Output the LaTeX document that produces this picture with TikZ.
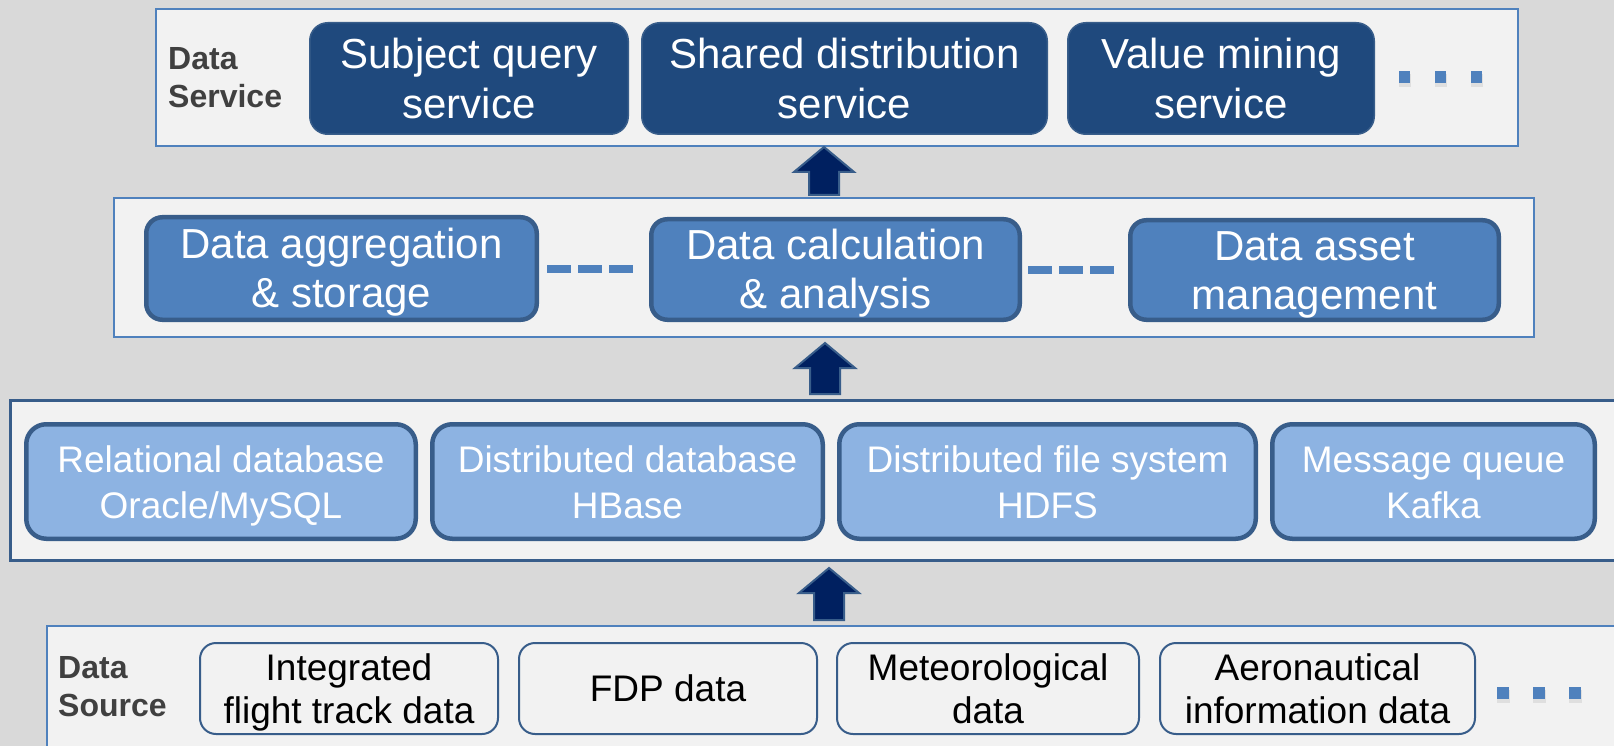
\documentclass[tikz,border=0pt]{standalone}
\usepackage{fontspec}
\setmainfont{Liberation Sans}
\usetikzlibrary{calc}

\definecolor{canvas}{HTML}{D9D9D9}
\definecolor{panelfill}{HTML}{F2F2F2}
\definecolor{panelline}{HTML}{4F81BD}
\definecolor{deepline}{HTML}{385D8A}
\definecolor{navy}{HTML}{1F497D}
\definecolor{midblue}{HTML}{4F81BD}
\definecolor{paleblue}{HTML}{8DB3E2}
\definecolor{arrowfill}{HTML}{002060}
\definecolor{labelgrey}{HTML}{404040}

% upward block arrow from a bottom point #1 to a tip point #2
\newcommand\layerarrow[2]{%
  \draw[blockarr] ($(#1)+(-15,0)$) -- ($(#2)+(-15,25)$) -- ($(#2)+(-30,25)$)
    -- (#2) -- ($(#2)+(30,25)$) -- ($(#2)+(15,25)$) -- ($(#1)+(15,0)$) -- cycle;}

\begin{document}
\begin{tikzpicture}[x=1pt,y=-1pt,
  panel/.style={rectangle, fill=panelfill, draw=panelline, line width=2pt,
    inner sep=0pt, outer sep=0pt},
  layerlabel/.style={anchor=west, inner sep=0pt, text=labelgrey, align=left,
    font=\fontsize{32}{38}\selectfont\bfseries\def\lstrut{\rule[-10pt]{0pt}{38pt}}},
  svcbox/.style={rectangle, rounded corners=18pt, fill=navy, draw=deepline,
    line width=1.5pt, text=white, align=center, inner sep=0pt,
    font=\fontsize{42}{50}\selectfont\def\lstrut{\rule[-9.5pt]{0pt}{50pt}}},
  procbox/.style={rectangle, rounded corners=16pt, fill=midblue, draw=deepline,
    line width=4.5pt, text=white, align=center, inner sep=0pt,
    font=\fontsize{42}{49}\selectfont\def\lstrut{\rule[-10pt]{0pt}{49pt}}},
  storebox/.style={rectangle, rounded corners=20pt, fill=paleblue, draw=deepline,
    line width=4.5pt, text=white, align=center, inner sep=0pt,
    minimum height=114.5pt,
    font=\fontsize{37}{46}\selectfont\def\lstrut{\rule[-9.5pt]{0pt}{46pt}}},
  srcbox/.style={rectangle, rounded corners=16pt, fill=panelfill, draw=deepline,
    line width=2pt, text=black, align=center, inner sep=0pt,
    minimum height=91pt,
    font=\fontsize{37}{43}\selectfont\def\lstrut{\rule[-8.5pt]{0pt}{43pt}}},
  linkdash/.style={draw=midblue, line width=8pt, dash pattern=on 24pt off 7pt},
  blockarr/.style={fill=arrowfill, draw=deepline, line width=2pt, line join=miter},
  dotmark/.style={fill=midblue},
  dotshade/.style={fill=black, opacity=0.08},
]
\clip (0,0) rectangle (1614,746);
\fill[canvas] (0,0) rectangle (1614,746);

% layer panels
\node[panel, minimum width=1362pt, minimum height=137pt] (svc) at (837,77.5) {};
\node[panel, minimum width=1420pt, minimum height=139pt] (proc) at (824,267.5) {};
\node[panel, draw=deepline, line width=3pt, minimum width=1628pt, minimum height=160pt] (store) at (824.5,480.5) {};
\node[panel, minimum width=1592pt, minimum height=143pt] (src) at (843,697.5) {};

% data service layer
\node[layerlabel] (svclabel) at (168,80) {\lstrut Data\\\lstrut Service};
\node[svcbox, minimum width=318.5pt, minimum height=111.5pt] (query) at (469,78.5)
  {\lstrut Subject query\\\lstrut service};
\node[svcbox, minimum width=405.5pt, minimum height=111.5pt] (share) at (844.5,78.5)
  {\lstrut Shared distribution\\\lstrut service};
\node[svcbox, minimum width=306.5pt, minimum height=111.5pt] (mining) at (1221,78.5)
  {\lstrut Value mining\\\lstrut service};
\foreach \x in {1399,1435,1471} {
  \fill[dotshade] (\x,74) rectangle ++(12,13);
  \fill[dotmark] (\x,71) rectangle ++(11,12);
}

% processing layer
\node[procbox, minimum width=390.5pt, minimum height=102.5pt] (agg) at (341.5,268.5)
  {\lstrut Data aggregation\\\lstrut \& storage};
\node[procbox, minimum width=368.5pt, minimum height=100.5pt] (calc) at (835.5,269.5)
  {\lstrut Data calculation\\\lstrut \& analysis};
\node[procbox, minimum width=368.5pt, minimum height=99.5pt] (asset) at (1314.5,270)
  {\lstrut Data asset\\\lstrut management};
\draw[linkdash, shorten <=8pt, shorten >=14pt] (agg.east) -- (agg.east -| calc.west);
\draw[linkdash, shorten <=6pt, shorten >=11pt] (calc.east) -- (calc.east -| asset.west);

% storage layer
\node[storebox, minimum width=389.5pt] (rdb) at (221,481.5)
  {\lstrut Relational database\\\lstrut Oracle/MySQL};
\node[storebox, minimum width=390.5pt] (ddb) at (627.5,481.5)
  {\lstrut Distributed database\\\lstrut HBase};
\node[storebox, minimum width=416.5pt] (dfs) at (1047.5,481.5)
  {\lstrut Distributed file system\\\lstrut HDFS};
\node[storebox, minimum width=322.5pt] (mq) at (1433.5,481.5)
  {\lstrut Message queue\\\lstrut Kafka};

% data source layer
\node[layerlabel] (srclabel) at (58,688) {\lstrut Data\\\lstrut Source};
\node[srcbox, minimum width=298pt] (track) at (349,688.5)
  {\lstrut Integrated\\\lstrut flight track data};
\node[srcbox, minimum width=298pt] (fdp) at (668,688.5) {\lstrut FDP data};
\node[srcbox, minimum width=302pt] (met) at (988,688.5)
  {\lstrut Meteorological\\\lstrut data};
\node[srcbox, minimum width=315pt] (aero) at (1317.5,688.5)
  {\lstrut Aeronautical\\\lstrut information data};
\foreach \x in {1497,1533,1569} {
  \fill[dotshade] (\x,690) rectangle ++(13,13);
  \fill[dotmark] (\x,687) rectangle ++(12,12);
}

% arrows between layers
\coordinate (ax1) at (824,0);
\coordinate (ax2) at (825,0);
\coordinate (ax3) at (829,0);
\coordinate (tip1) at ($(ax1 |- svc.south)+(0,1)$);
\coordinate (foot1) at ($(ax1 |- proc.north)+(0,-3)$);
\coordinate (tip2) at ($(ax2 |- proc.south)+(0,6)$);
\coordinate (foot2) at ($(ax2 |- store.north)+(0,-6.5)$);
\coordinate (tip3) at ($(ax3 |- store.south)+(0,7.5)$);
\coordinate (foot3) at ($(ax3 |- src.north)+(0,-6)$);
\layerarrow{foot1}{tip1}
\layerarrow{foot2}{tip2}
\layerarrow{foot3}{tip3}
\end{tikzpicture}
\end{document}
